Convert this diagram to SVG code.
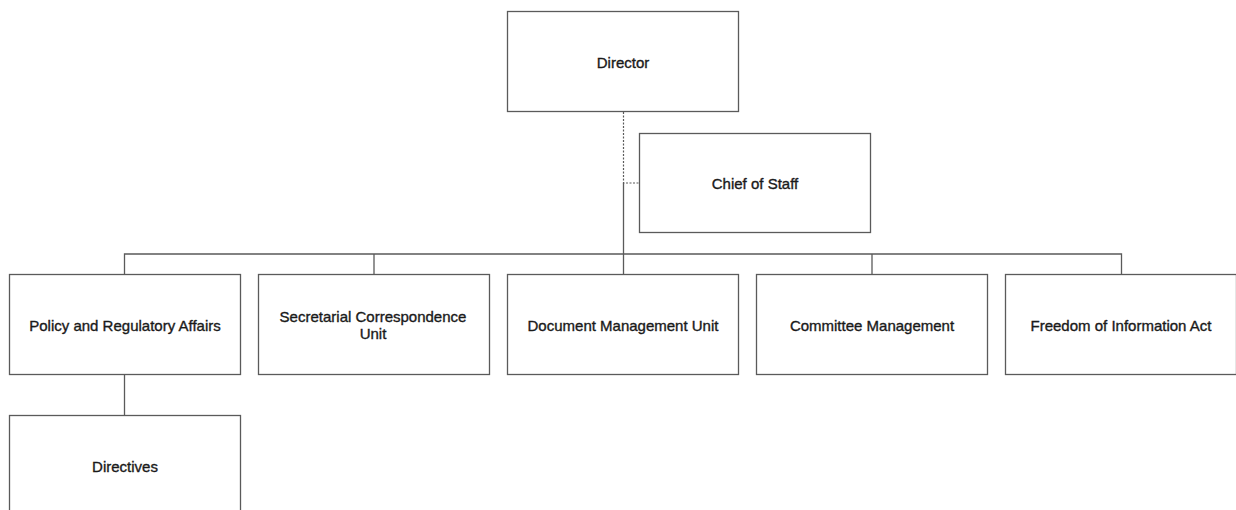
<svg xmlns="http://www.w3.org/2000/svg" width="1236" height="510" viewBox="0 0 1236 510">
<style>
.box{fill:#fff;stroke:#5a5a5a;stroke-width:1.3}
.lbl{font-family:"Liberation Sans",Arial,sans-serif;font-size:15px;fill:#1a1a1a;stroke:#1a1a1a;stroke-width:0.35;text-anchor:middle}
.ln{fill:none;stroke:#5a5a5a;stroke-width:1.3}
.dash{fill:none;stroke:#5a5a5a;stroke-width:1.2;stroke-dasharray:2 1.5}
</style>
<rect width="1236" height="510" fill="#fff"/>
<g id="connectors">
<path class="dash" d="M623.5 112 V183 H639"/>
<path class="ln" d="M623.5 183 V274"/>
<path class="ln" d="M124.5 274 V254 H1121.5 V274"/>
<path class="ln" d="M374 254 V274"/>
<path class="ln" d="M872 254 V274"/>
<path class="ln" d="M124.5 375 V415"/>
</g>
<g id="director"><rect class="box" x="507.5" y="11.5" width="231" height="100"/><text class="lbl" x="623" y="68">Director</text></g>
<g id="chief-of-staff"><rect class="box" x="639.5" y="133.5" width="231" height="99"/><text class="lbl" x="755" y="189">Chief of Staff</text></g>
<g id="policy"><rect class="box" x="9.5" y="274.5" width="231" height="100"/><text class="lbl" x="125" y="331">Policy and Regulatory Affairs</text></g>
<g id="secretarial"><rect class="box" x="258.5" y="274.5" width="231" height="100"/><text class="lbl" x="373" y="321.5">Secretarial Correspondence</text><text class="lbl" x="373" y="338.5">Unit</text></g>
<g id="document"><rect class="box" x="507.5" y="274.5" width="231" height="100"/><text class="lbl" x="623" y="331">Document Management Unit</text></g>
<g id="committee"><rect class="box" x="756.5" y="274.5" width="231" height="100"/><text class="lbl" x="872" y="331">Committee Management</text></g>
<g id="foia"><rect class="box" x="1005.5" y="274.5" width="231" height="100"/><text class="lbl" x="1121" y="331">Freedom of Information Act</text></g>
<g id="directives"><rect class="box" x="9.5" y="415.5" width="231" height="100"/><text class="lbl" x="125" y="472">Directives</text></g>
</svg>
